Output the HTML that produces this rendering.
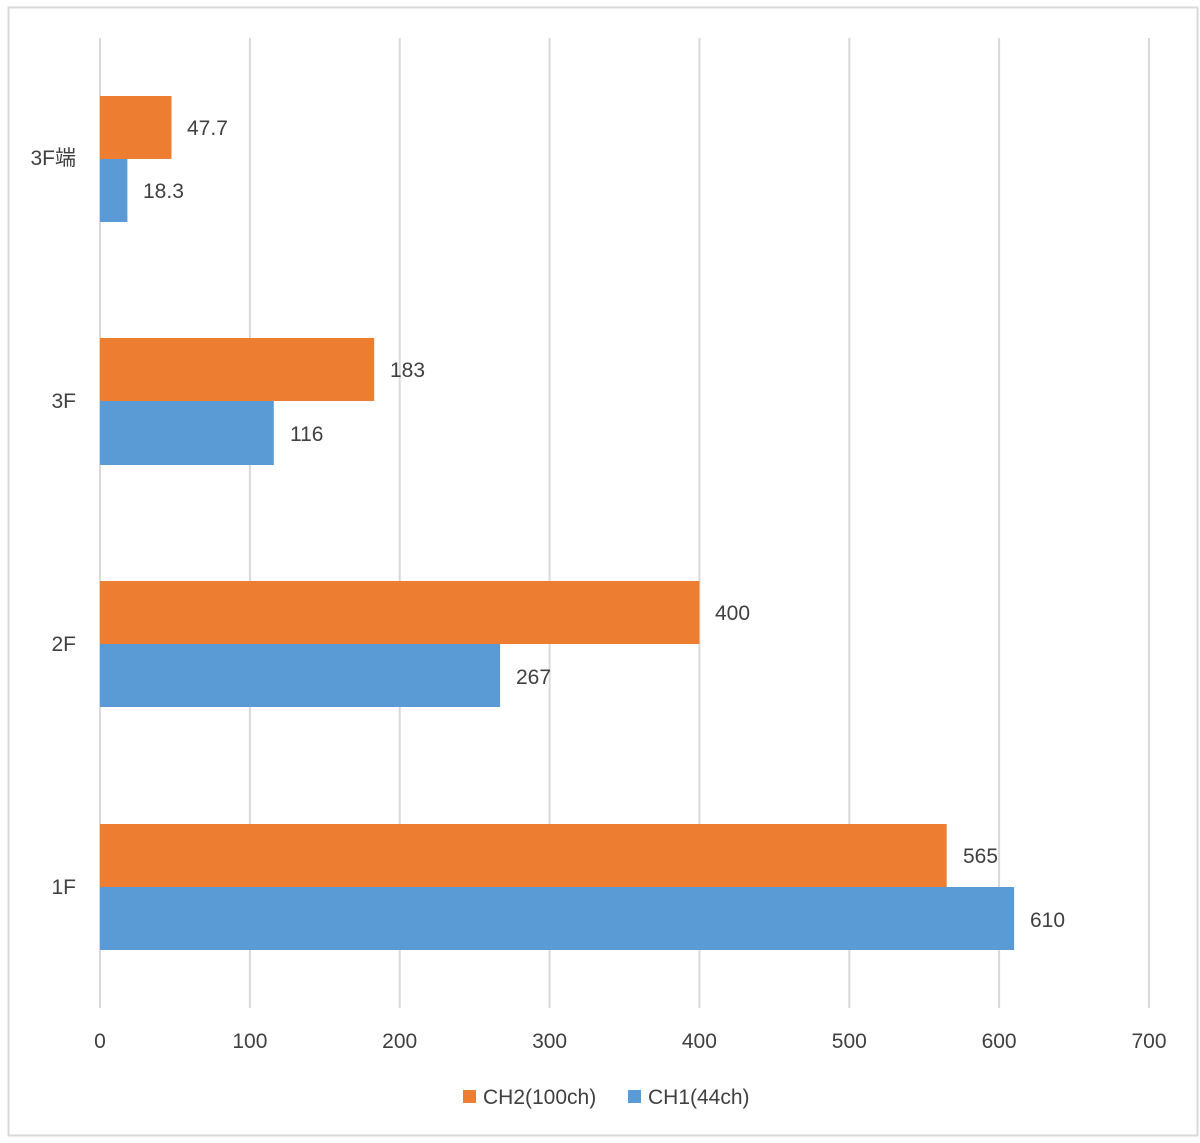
<!DOCTYPE html>
<html><head><style>
body{margin:0;background:#fff;width:1200px;height:1138px;overflow:hidden}
svg text{font-family:"Liberation Sans","Noto Sans CJK JP",sans-serif;fill:#404040}
</style></head><body>
<svg width="1200" height="1138" xmlns="http://www.w3.org/2000/svg">
<rect x="8.5" y="7.5" width="1189" height="1128" fill="#fff" stroke="#d9d9d9" stroke-width="2"/>
<g stroke="#d9d9d9" stroke-width="2">
<line x1="100" y1="38" x2="100" y2="1008"/>
<line x1="249.9" y1="38" x2="249.9" y2="1008"/>
<line x1="399.7" y1="38" x2="399.7" y2="1008"/>
<line x1="549.6" y1="38" x2="549.6" y2="1008"/>
<line x1="699.4" y1="38" x2="699.4" y2="1008"/>
<line x1="849.3" y1="38" x2="849.3" y2="1008"/>
<line x1="999.1" y1="38" x2="999.1" y2="1008"/>
<line x1="1149" y1="38" x2="1149" y2="1008"/>
</g>
<g fill="#ed7d31">
<rect x="100" y="96" width="71.5" height="63"/>
<rect x="100" y="338" width="274.2" height="63"/>
<rect x="100" y="581" width="599.4" height="63"/>
<rect x="100" y="824" width="846.7" height="63"/>
</g>
<g fill="#5b9bd5">
<rect x="100" y="159" width="27.4" height="63"/>
<rect x="100" y="401" width="173.8" height="64"/>
<rect x="100" y="644" width="400.1" height="63"/>
<rect x="100" y="887" width="914.1" height="63"/>
</g>
<g font-size="21">
<text x="187" y="135">47.7</text>
<text x="143" y="198">18.3</text>
<text x="390" y="377">183</text>
<text x="290" y="441">116</text>
<text x="715" y="620">400</text>
<text x="516" y="684">267</text>
<text x="963" y="863">565</text>
<text x="1030" y="927">610</text>
</g>
<g font-size="21" text-anchor="end">
<text x="76" y="165">3F端</text>
<text x="76" y="408">3F</text>
<text x="76" y="651">2F</text>
<text x="76" y="894">1F</text>
</g>
<g font-size="21" text-anchor="middle">
<text x="100" y="1048">0</text>
<text x="249.9" y="1048">100</text>
<text x="399.7" y="1048">200</text>
<text x="549.6" y="1048">300</text>
<text x="699.4" y="1048">400</text>
<text x="849.3" y="1048">500</text>
<text x="999.1" y="1048">600</text>
<text x="1149" y="1048">700</text>
</g>
<rect x="463" y="1090" width="13" height="13" fill="#ed7d31"/>
<text x="483" y="1104" font-size="21">CH2(100ch)</text>
<rect x="628" y="1090" width="13" height="13" fill="#5b9bd5"/>
<text x="648" y="1104" font-size="21">CH1(44ch)</text>
</svg>
</body></html>
